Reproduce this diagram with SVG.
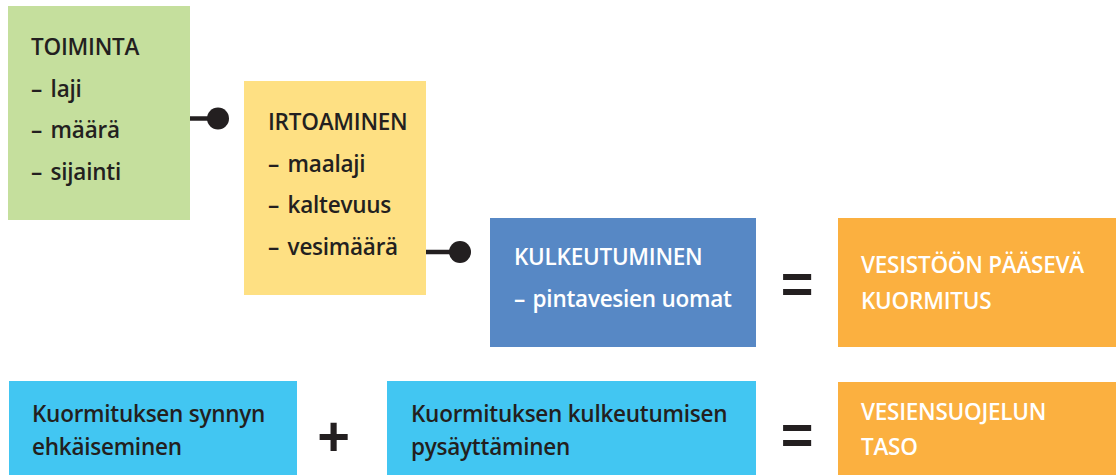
<svg xmlns="http://www.w3.org/2000/svg" width="1116" height="475" viewBox="0 0 1116 475">
<style>
text{font-family:"Open Sans","Noto Sans","Liberation Sans",sans-serif;font-size:22.5px;font-weight:600;letter-spacing:-0.25px}
.dk{fill:#231f20}
.wt{fill:#ffffff}
.op{font-family:"Liberation Sans",Arial,sans-serif;font-weight:700;font-size:56px;fill:#231f20;text-anchor:middle;letter-spacing:0}
.conn line{stroke:#231f20;stroke-width:4.5}
.conn circle{fill:#231f20}
</style>
<rect width="1116" height="475" fill="#ffffff"/>
<g id="toiminta">
<rect x="8" y="6" width="182" height="214" fill="#c5df9d"/>
<text class="dk" x="31" y="55">TOIMINTA</text>
<text class="dk" x="31" y="97">– <tspan dx="3">laji</tspan></text>
<text class="dk" x="31" y="138">– <tspan dx="3">määrä</tspan></text>
<text class="dk" x="31" y="180">– <tspan dx="3">sijainti</tspan></text>
</g>
<g id="irtoaminen">
<rect x="244" y="81" width="182" height="214" fill="#fee083"/>
<text class="dk" x="268" y="130">IRTOAMINEN</text>
<text class="dk" x="268" y="172">– <tspan dx="3">maalaji</tspan></text>
<text class="dk" x="268" y="213">– <tspan dx="3">kaltevuus</tspan></text>
<text class="dk" x="268" y="255">– <tspan dx="3">vesimäärä</tspan></text>
</g>
<g id="kulkeutuminen">
<rect x="490" y="218" width="266" height="129" fill="#5788c5"/>
<text class="wt" x="514" y="265">KULKEUTUMINEN</text>
<text class="wt" x="514" y="307">– <tspan dx="2">pintavesien uomat</tspan></text>
</g>
<g id="kuormitus">
<rect x="838" y="218" width="278" height="129" fill="#fbb040"/>
<text class="wt" x="861" y="273">VESISTÖÖN PÄÄSEVÄ</text>
<text class="wt" x="861" y="309">KUORMITUS</text>
</g>
<g id="ehkaiseminen">
<rect x="9" y="381" width="288" height="94" fill="#42c6f2"/>
<text class="dk" x="32" y="422">Kuormituksen synnyn</text>
<text class="dk" x="32" y="455">ehkäiseminen</text>
</g>
<g id="pysayttaminen">
<rect x="387" y="381" width="369" height="94" fill="#42c6f2"/>
<text class="dk" x="411" y="422">Kuormituksen kulkeutumisen</text>
<text class="dk" x="411" y="455">pysäyttäminen</text>
</g>
<g id="taso">
<rect x="838" y="382" width="278" height="93" fill="#fbb040"/>
<text class="wt" x="861" y="420">VESIENSUOJELUN</text>
<text class="wt" x="861" y="455">TASO</text>
</g>
<g id="operators">
<text class="op" x="797" y="303">=</text>
<text class="op" x="797" y="454">=</text>
<text class="op" x="333.5" y="455">+</text>
</g>
<g id="connectors" class="conn">
<line x1="190" y1="118.5" x2="218" y2="118.5"/>
<circle cx="218" cy="118.5" r="11"/>
<line x1="426" y1="252" x2="460" y2="252"/>
<circle cx="460" cy="252" r="11"/>
</g>
</svg>
